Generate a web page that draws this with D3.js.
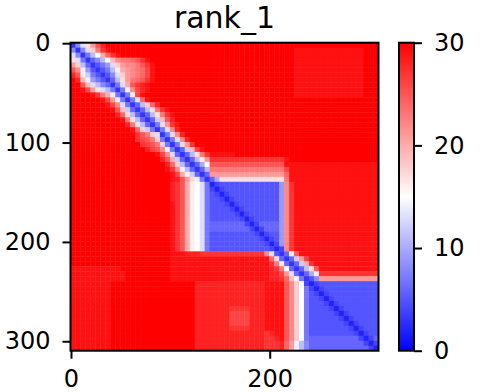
<!DOCTYPE html>
<html>
<head>
<meta charset="utf-8">
<script src="https://cdn.jsdelivr.net/npm/d3@7"></script>
<style>
  html, body { margin: 0; padding: 0; background: #ffffff; }
  svg { display: block; }
  text { font-family: "DejaVu Sans", sans-serif; fill: #000; }
</style>
</head>
<body>
<svg id="chart" width="484" height="392"></svg>
<script>
// ---------------- data ----------------
const chartTitle = "rank_1";
const residueCount = 310;          // residues on each axis
const binSize = 5;                 // residues per cell in the grid below
const xTickValues = [0, 200];
const yTickValues = [0, 100, 200, 300];
const colorTickValues = [0, 10, 20, 30];
const colorDomain = [0, 15, 30];
const colorRange = ["#0000ff", "#ffffff", "#ff0000"];
// Distance (Å), one row per 5-residue bin.
// Each character is a base-36 digit: '0'..'9' = 0..9, 'a' = 10 ... 'u' = 30.
// Spaces only group the columns in tens.
const distanceRows = [
  "38dhlpsuuu uuuuuuuuuu uuuuuuuuuu uuuuuuuuuu uuuuuuuuuu uuuuuuuuuu uu",
  "838dinrtuu uuuuuuuuuu uuuuuuuuuu uuuuuuuuuu uuuuuttttt tttttttttu uu",
  "d837bfkort uuuuuuuuuu uuuuuuuuuu uuuuuuuuuu uuuuuttttt tttttttttu uu",
  "hd7368bfjm nnoprtuuuu uuuuuuuuuu uuuuuuuuuu uuuuuttttt tttttttttu uu",
  "lib63579di lmmnprtuuu uuuuuuuuuu uuuuuuuuuu uuuuuttttt tttttttttu uu",
  "pme95357bg klmnoqtuuu uuuuuuuuuu uuuuuuuuuu uuuuuttttt tttttttttu uu",
  "spgc75358d ilmnoqtuuu uuuuuuuuuu uuuuuuuuuu uuuuuttttt tttttttttu uu",
  "usje97536b hlnoprtuuu uuuuuuuuuu uuuuuuuuuu uuuuuttttt tttttttttu uu",
  "uupjdb8637 dkprstuuuu uuuuuuuuuu uuuuuuuuuu uuuuuttttt tttttttttu uu",
  "uutqlhdb73 7emqstuuuu uuuuuuuuuu uuuuuuuuuu uuuuuttttt tttttttttu uu",
  "uuuutrnke7 37eqtuuuuu uuuuuuuuuu uuuuuuuuuu uuuuuttttt tttttttttu uu",
  "uuuuuutqle 737dotuuuu uuuuuuuuuu uuuuuuuuuu uuuuuuuuuu uuuuuuuuuu uu",
  "uuuuuuutqm d736biosuu uuuuuuuuuu uuuuuuuuuu uuuuuuuuuu uuuuuuuuuu uu",
  "uuuuuuuutp jc636bhnrt uuuuuuuuuu uuuuuuuuuu uuuuuuuuuu uuuuuuuuuu uu",
  "uuuuuuuuus ohb636bhnr tuuuuuuuuu uuuuuuuuuu uuuuuuuuuu uuuuuuuuuu uu",
  "uuuuuuuuuu tnhb636cjp suuuuuuuuu uuuuuuuuuu uuuuuuuuuu uuuuuuuuuu uu",
  "uuuuuuuuuu usnhb637dl rtuuuuuuuu uuuuuuuuuu uuuuuuuuuu uuuuuuuuuu uu",
  "uuuuuuuuuu uutoic737d msuuuuuuuu uuuuuuuuuu uuuuuuuuuu uuuuuuuuuu uu",
  "uuuuuuuuuu uuurpnid37 dmsuuuuuuu uuuuuuuuuu uuuuuuuuuu uuuuuuuuuu uu",
  "uuuuuuuuuu uuurqpni73 7dmsuuuuuu uuuuuuuuuu uuuuuuuuuu uuuuuuuuuu uu",
  "uuuuuuuuuu uuuurqpni7 37dlruuuuu uuuuuuuuuu uuuuuuuuuu uuuuuuuuuu uu",
  "uuuuuuuuuu uuuuusqpme 736cjqtuuu uuuuuuuuuu uuuuuuuuuu uuuuuuuuuu uu",
  "uuuuuuuuuu uuuuuuutqm d636bhnrtt tttuuuuuuu uuuuuuuuuu uuuuuuuuuu uu",
  "uuuuuuuuuu uuuuuuuusp kc636bglrr rrrrrrrrrr rrrtuuuuuu uuuuuuuuuu uu",
  "uuuuuuuuuu uuuuuuuuus oib636afpp pppppppppp pppttttttt tttttttttt tt",
  "uuuuuuuuuu uuuuuuuuut rmgb636bnn nnnnnnnnnn nnnqtttttt tttttttttt tt",
  "uuuuuuuuuu uuuuuuuuuu tqkgc636ll llllllllll lllotttttt tttttttttt tt",
  "uuuuuuuuuu uuuuuuuuuu tsplhe736a hhhhhhhhhh hhhntttttt tttttttttt tt",
  "uuuuuuuuuu uuuuuuuuuu srpkgfd724 5555555555 559mrttttt tttttttttt tt",
  "uuuuuuuuuu uuuuuuuuuu srpkgfd742 4555555555 559mrttttt tttttttttt tt",
  "uuuuuuuuuu uuuuuuuuuu srpkgfd754 2455555555 559mrttttt tttttttttt tt",
  "uuuuuuuuuu uuuuuuuuuu srpkgfd755 4245555555 559mrttttt tttttttttt tt",
  "uuuuuuuuuu uuuuuuuuuu trpkgfd755 5424555555 559mrttttt tttttttttt tt",
  "uuuuuuuuuu uuuuuuuuuu trpkgfd755 5542455555 559mrttttt tttttttttt tt",
  "uuuuuuuuuu uuuuuuuuuu trpkgfd755 5554245555 559mrttttt tttttttttt tt",
  "uuuuuuuuuu uuuuuuuuuu trpkgfd755 5555424555 559mrttttt tttttttttt tt",
  "uuuuuuuuuu uuuuuuuuuu trpkgfd766 6666642466 669mrttttt tttttttttt tt",
  "uuuuuuuuuu uuuuuuuuuu trpkgfd766 6666664246 669mrttttt tttttttttt tt",
  "uuuuuuuuuu uuuuuuuuuu trpkgfd755 5555555424 559mrttttt tttttttttt tt",
  "uuuuuuuuuu uuuuuuuuuu trpkgfd755 5555555542 459mrttttt tttttttttt tt",
  "uuuuuuuuuu uuuuuuuuuu trpkgfd755 5555555554 249mrttttt tttttttttt tt",
  "uuuuuuuuuu uuuuuuuuuu trpkgfd755 5555555555 424mrttttt tttttttttt tt",
  "uuuuuuuuuu uuuuuuuuuu tttsssrrrr rrrrrrrrrm d536eptttt tttttttttt tt",
  "uuuuuuuuuu uuuuuuuuuu tttttttttt tttttttttt oh636clqtt tttttttttt tt",
  "uuuuuuuuuu uuuuuuuuuu tttttttttt tttttttttt rng636ckrt tttttttttt tt",
  "tttttttttt uuuuuuuuuu tttttttttt tttttttttt srnf636bhp tttttttttt tt",
  "tttttttttt tuuuuuuuuu tttttttttt tttttttttt ssqld636ag rrrrrrrrrr rr",
  "tttttttttt tuuuuuuuuu tttttttttt tttttttttt ssroje7358 llllllllll ll",
  "ttttttttuu uuuuuuuuuu uuuuusssss ssssssssst tttpmif424 5555555555 55",
  "ttttttttuu uuuuuuuuuu uuuuusssss ssssssssst tttpmif742 4555555555 55",
  "ttttttttuu uuuuuuuuuu uuuuusssss ssssssssst tttpmif754 2455555555 55",
  "ttttttttuu uuuuuuuuuu uuuuusssss ssssssssst tttpmif755 4245555555 55",
  "ttttttttuu uuuuuuuuuu uuuuusssss ssssssssst tttpmif755 5424555555 55",
  "ttttttttuu uuuuuuuuuu uuuuusssss ssrrrrssst tttpmif755 5542455555 55",
  "ttttttttuu uuuuuuuuuu uuuuusssss ssqqqqssst tttpmif755 5554245555 55",
  "ttttttttuu uuuuuuuuuu uuuuusssss ssqqqqssst tttpmif755 5555424555 55",
  "ttttttttuu uuuuuuuuuu uuuuusssss ssqqqqssst tttpmif755 5555542455 55",
  "ttttttttuu uuuuuuuuuu uuuuusssss ssrrrrssst tttpmif755 5555554245 55",
  "ttttttttuu uuuuuuuuuu uuuuusssss sssssssssr sttpmif755 5555555424 55",
  "ttttttttuu uuuuuuuuuu uuuuusssss sssssssssr rstpmif766 6666666642 46",
  "ttttttttuu uuuuuuuuuu uuuuusssss sssssssssr rrsoleb866 6666666664 24",
  "ttttttttuu uuuuuuuuuu uuuuusssss sssssssssr rrsoleb866 6666666666 42"
];

// ---------------- layout ----------------
const plot = { left: 70.5, right: 378.5, top: 42.7, bottom: 350.7 };
const cbar = { left: 399, right: 414, top: 42.7, bottom: 350.7 };
const svg = d3.select("#chart");

const x = d3.scaleLinear().domain([-0.5, residueCount - 0.5]).range([plot.left, plot.right]);
const y = d3.scaleLinear().domain([-0.5, residueCount - 0.5]).range([plot.top, plot.bottom]);
const color = d3.scaleLinear().domain(colorDomain).range(colorRange).clamp(true);

// decode cells
const cells = [];
distanceRows.forEach((row, i) => {
  const chars = row.replace(/\s+/g, "");
  if (chars.length !== residueCount / binSize) console.error("row " + i + " has " + chars.length);
  for (let j = 0; j < chars.length; j++) {
    cells.push({ i, j, v: parseInt(chars[j], 36) });
  }
});

svg.append("g")
  .selectAll("rect")
  .data(cells)
  .join("rect")
  .attr("x", d => x(d.j * binSize - 0.5))
  .attr("y", d => y(d.i * binSize - 0.5))
  .attr("width", d => x((d.j + 1) * binSize - 0.5) - x(d.j * binSize - 0.5) + 0.4)
  .attr("height", d => y((d.i + 1) * binSize - 0.5) - y(d.i * binSize - 0.5) + 0.4)
  .attr("fill", d => color(d.v));

// frame
svg.append("rect")
  .attr("x", plot.left).attr("y", plot.top)
  .attr("width", plot.right - plot.left).attr("height", plot.bottom - plot.top)
  .attr("fill", "none").attr("stroke", "#000").attr("stroke-width", 2);

function styleAxis(g) {
  g.select(".domain").remove();
  g.selectAll(".tick line").attr("stroke", "#000").attr("stroke-width", 2);
  g.selectAll(".tick text").style("font-size", "24px").style("font-family", "DejaVu Sans, sans-serif").attr("fill", "#000");
}

svg.append("g")
  .attr("transform", `translate(${plot.left},0)`)
  .call(d3.axisLeft(y).tickValues(yTickValues).tickFormat(d3.format("d")).tickSize(8).tickPadding(12))
  .call(styleAxis);

svg.append("g")
  .attr("transform", `translate(0,${plot.bottom})`)
  .call(d3.axisBottom(x).tickValues(xTickValues).tickFormat(d3.format("d")).tickSize(8).tickPadding(11))
  .call(styleAxis);

// title
svg.append("text")
  .attr("x", (plot.left + plot.right) / 2)
  .attr("y", 28)
  .attr("text-anchor", "middle")
  .style("font-size", "30px")
  .text(chartTitle);

// colorbar
const defs = svg.append("defs");
const grad = defs.append("linearGradient")
  .attr("id", "cbarGrad").attr("x1", "0").attr("y1", "1").attr("x2", "0").attr("y2", "0");
grad.selectAll("stop")
  .data(colorDomain)
  .join("stop")
  .attr("offset", d => (d - colorDomain[0]) / (colorDomain[2] - colorDomain[0]))
  .attr("stop-color", d => color(d));

svg.append("rect")
  .attr("x", cbar.left).attr("y", cbar.top)
  .attr("width", cbar.right - cbar.left).attr("height", cbar.bottom - cbar.top)
  .attr("fill", "url(#cbarGrad)")
  .attr("stroke", "#000").attr("stroke-width", 2);

const cScale = d3.scaleLinear().domain([colorDomain[0], colorDomain[2]]).range([cbar.bottom, cbar.top]);
svg.append("g")
  .attr("transform", `translate(${cbar.right},0)`)
  .call(d3.axisRight(cScale).tickValues(colorTickValues).tickFormat(d3.format("d")).tickSize(8).tickPadding(12))
  .call(styleAxis);
</script>
</body>
</html>
